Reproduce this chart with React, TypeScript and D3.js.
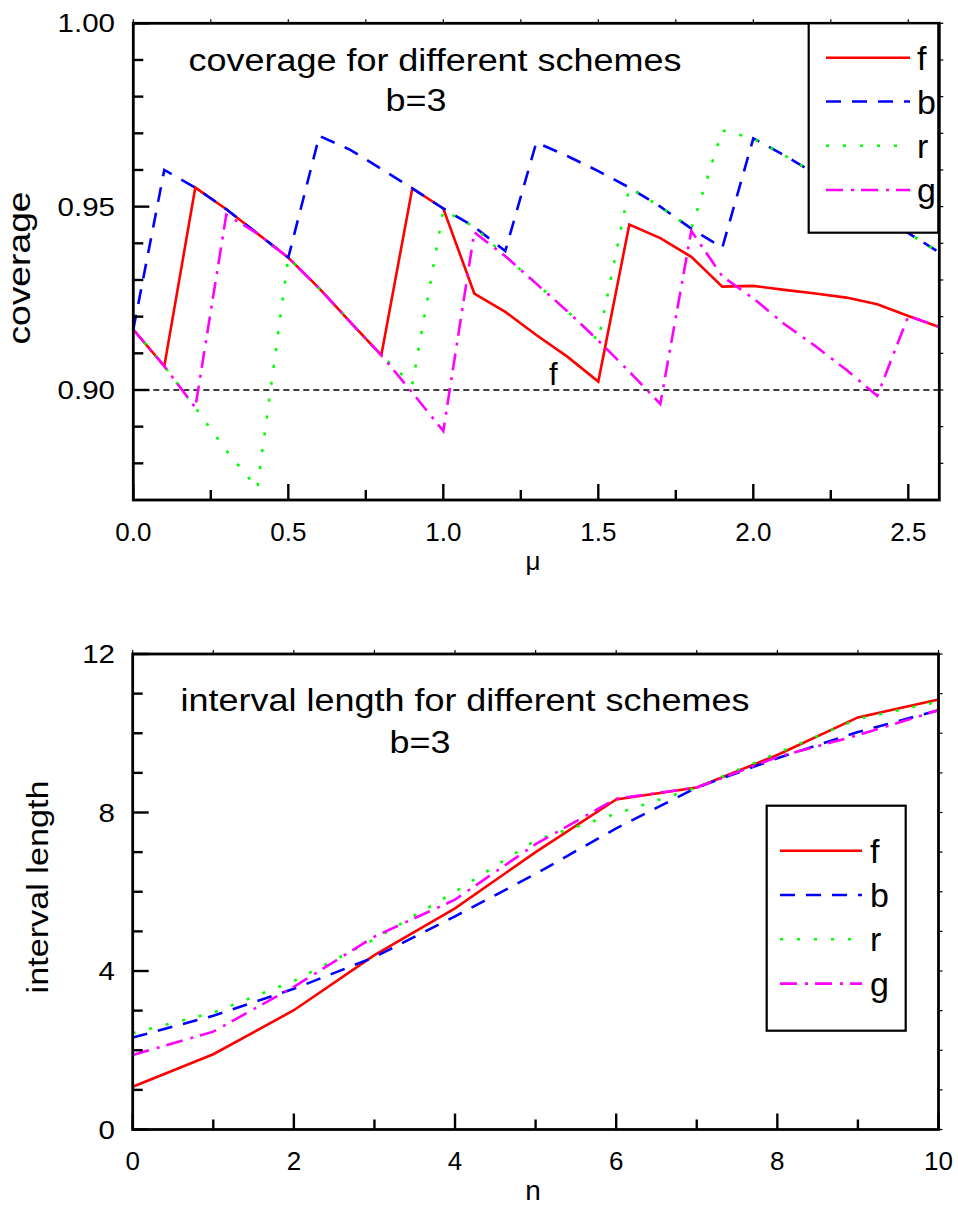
import React from "react";
import * as d3 from "d3";

// ---------- Data: top panel (coverage vs mu) ----------
const muValues = [0, 0.1, 0.2, 0.3, 0.4, 0.5, 0.6, 0.7, 0.8, 0.9, 1.0, 1.1, 1.2, 1.3, 1.4, 1.5, 1.6, 1.7, 1.8, 1.9, 2.0, 2.1, 2.2, 2.3, 2.4, 2.5, 2.6];
const coverageF = [0.9165, 0.9065, 0.9552, 0.9493, 0.9427, 0.9361, 0.9277, 0.9185, 0.9095, 0.955, 0.9495, 0.9263, 0.9213, 0.915, 0.9091, 0.9023, 0.9451, 0.9414, 0.9363, 0.9282, 0.9284, 0.9273, 0.9263, 0.9252, 0.9234, 0.9202, 0.9172];
const coverageB = [0.9165, 0.96, 0.9552, 0.9493, 0.9427, 0.9361, 0.9693, 0.9655, 0.9603, 0.955, 0.9495, 0.9445, 0.9379, 0.9675, 0.9638, 0.9597, 0.9552, 0.95, 0.944, 0.9388, 0.9686, 0.964, 0.959, 0.9535, 0.9482, 0.9428, 0.9375];
const coverageR = [0.9165, 0.9065, 0.8952, 0.8835, 0.8732, 0.9361, 0.9277, 0.9185, 0.9095, 0.9015, 0.949, 0.9445, 0.9365, 0.929, 0.9215, 0.9135, 0.9552, 0.95, 0.944, 0.9708, 0.9686, 0.964, 0.959, 0.9535, 0.9482, 0.9428, 0.9375];
const coverageG = [0.9165, 0.9065, 0.8952, 0.9478, 0.9427, 0.9361, 0.9277, 0.9185, 0.9095, 0.8993, 0.8888, 0.943, 0.9365, 0.929, 0.9215, 0.9135, 0.905, 0.8962, 0.9434, 0.931, 0.925, 0.918, 0.912, 0.9055, 0.8984, 0.9202, 0.9172];
const nominalLevel = 0.9;

const topXMajor = [0, 0.5, 1.0, 1.5, 2.0, 2.5];
const topXMinor = [0.25, 0.75, 1.25, 1.75, 2.25];
const topYMajor = [0.9, 0.95, 1.0];
const topYMinor = [0.88, 0.89, 0.91, 0.92, 0.93, 0.94, 0.96, 0.97, 0.98, 0.99];

// ---------- Data: bottom panel (interval length vs n) ----------
const nValues = [0, 1, 2, 3, 4, 5, 6, 7, 8, 9, 10];
const lengthF = [1.08, 1.9, 3.01, 4.4, 5.58, 7.0, 8.33, 8.63, 9.45, 10.4, 10.85];
const lengthB = [2.32, 2.87, 3.55, 4.35, 5.38, 6.45, 7.6, 8.63, 9.37, 10.03, 10.58];
const lengthR = [2.43, 2.95, 3.75, 4.8, 6.0, 7.3, 7.97, 8.63, 9.5, 10.36, 10.8];
const lengthG = [1.88, 2.47, 3.6, 4.87, 5.8, 7.2, 8.35, 8.63, 9.4, 9.95, 10.58];

const botXMajor = [0, 2, 4, 6, 8, 10];
const botXMinor = [1, 3, 5, 7, 9];
const botYMajor = [0, 4, 8, 12];
const botYMinor = [1, 2, 3, 5, 6, 7, 9, 10, 11];

const seriesNames = ["f", "b", "r", "g"];

// ---------- Styles ----------
const FONT = "'Liberation Sans', Arial, Helvetica, sans-serif";
const styles = [
  { color: "#ff0000", dash: "none" },
  { color: "#0000ff", dash: "15,11" },
  { color: "#00ff00", dash: "3,14" },
  { color: "#ff00ff", dash: "17,8,3,7" },
];

type TProps = {
  x: number;
  y: number;
  size: number;
  sx?: number;
  anchor?: string;
  rotate?: number;
  children: React.ReactNode;
};
function T({ x, y, size, sx = 1, anchor = "start", rotate = 0, children }: TProps) {
  return (
    <g transform={`translate(${x},${y}) rotate(${rotate}) scale(${sx},1)`}>
      <text x={0} y={0} fontSize={size} fontFamily={FONT} textAnchor={anchor} fill="#000">
        {children}
      </text>
    </g>
  );
}

type PanelProps = {
  xs: number[];
  series: number[][];
  xDomain: [number, number];
  yDomain: [number, number];
  left: number;
  right: number;
  top: number;
  bottom: number;
  xMajor: number[];
  xMinor: number[];
  yMajor: number[];
  yMinor: number[];
  xFmt: (v: number) => string;
  yFmt: (v: number) => string;
  xLabelBaseline: number;
  refLine?: number;
};

function Panel(p: PanelProps) {
  const x = d3.scaleLinear().domain(p.xDomain).range([p.left, p.right]);
  const y = d3.scaleLinear().domain(p.yDomain).range([p.bottom, p.top]);
  const line = d3
    .line<number>()
    .x((_, i) => x(p.xs[i]))
    .y((d) => y(d));
  const majLen = 16;
  const minLen = 10;
  const outLen = 4;
  return (
    <g>
      {p.refLine !== undefined && (
        <line
          x1={p.left}
          x2={p.right}
          y1={y(p.refLine)}
          y2={y(p.refLine)}
          stroke="#000"
          strokeWidth={1.6}
          strokeDasharray="6,4"
        />
      )}
      {p.series.map((s, i) => (
        <path
          key={i}
          d={line(s) || ""}
          fill="none"
          stroke={styles[i].color}
          strokeWidth={2.6}
          strokeDasharray={styles[i].dash}
          strokeLinejoin="miter"
        />
      ))}
      {/* frame */}
      <rect
        x={p.left}
        y={p.top}
        width={p.right - p.left}
        height={p.bottom - p.top}
        fill="none"
        stroke="#000"
        strokeWidth={2.8}
      />
      {/* bottom ticks (inward) */}
      {p.xMajor.map((v) => (
        <line key={"xM" + v} x1={x(v)} x2={x(v)} y1={p.bottom} y2={p.bottom - majLen} stroke="#000" strokeWidth={2.4} />
      ))}
      {p.xMinor.map((v) => (
        <line key={"xm" + v} x1={x(v)} x2={x(v)} y1={p.bottom} y2={p.bottom - minLen} stroke="#000" strokeWidth={2.4} />
      ))}
      {/* top ticks (small, outward) */}
      {[...p.xMajor, ...p.xMinor].map((v) => (
        <line key={"xt" + v} x1={x(v)} x2={x(v)} y1={p.top} y2={p.top - outLen} stroke="#000" strokeWidth={1.2} />
      ))}
      {/* left ticks (inward) */}
      {p.yMajor.map((v) => (
        <line key={"yM" + v} x1={p.left} x2={p.left + majLen} y1={y(v)} y2={y(v)} stroke="#000" strokeWidth={2.4} />
      ))}
      {p.yMinor.map((v) => (
        <line key={"ym" + v} x1={p.left} x2={p.left + minLen} y1={y(v)} y2={y(v)} stroke="#000" strokeWidth={2.4} />
      ))}
      {/* right ticks (small, outward) */}
      {[...p.yMajor, ...p.yMinor].map((v) => (
        <line key={"yr" + v} x1={p.right} x2={p.right + outLen} y1={y(v)} y2={y(v)} stroke="#000" strokeWidth={1.2} />
      ))}
      {/* tick labels */}
      {p.xMajor.map((v) => (
        <T key={"xl" + v} x={x(v)} y={p.xLabelBaseline} size={26} anchor="middle">
          {p.xFmt(v)}
        </T>
      ))}
      {p.yMajor.map((v) => (
        <T key={"yl" + v} x={115} y={y(v) + 9} size={25} sx={1.18} anchor="end">
          {p.yFmt(v)}
        </T>
      ))}
    </g>
  );
}

function Legend({ left, top, right, bottom, rowY, lineX1, lineX2, textX }: any) {
  return (
    <g>
      <rect x={left} y={top} width={right - left} height={bottom - top} fill="#fff" stroke="#000" strokeWidth={2.2} />
      {seriesNames.map((name, i) => (
        <g key={name}>
          <line
            x1={lineX1}
            x2={lineX2}
            y1={rowY[i]}
            y2={rowY[i]}
            stroke={styles[i].color}
            strokeWidth={2.6}
            strokeDasharray={styles[i].dash}
          />
          <T x={textX} y={rowY[i] + 12} size={34}>
            {name}
          </T>
        </g>
      ))}
    </g>
  );
}

export default function App() {
  return (
    <svg
      width={958}
      height={1214}
      style={{ position: "absolute", left: 0, top: 0, background: "#fff" }}
    >
      <rect x={0} y={0} width={958} height={1214} fill="#fff" />
      {/* ---------- Top panel ---------- */}
      <Panel
        xs={muValues}
        series={[coverageF, coverageB, coverageR, coverageG]}
        xDomain={[0, 2.6]}
        yDomain={[0.87, 1.0]}
        left={133.3}
        right={939.3}
        top={23.3}
        bottom={500}
        xMajor={topXMajor}
        xMinor={topXMinor}
        yMajor={topYMajor}
        yMinor={topYMinor}
        xFmt={d3.format(".1f")}
        yFmt={d3.format(".2f")}
        xLabelBaseline={541}
        refLine={nominalLevel}
      />
      <T x={435} y={71} size={31} sx={1.16} anchor="middle">
        coverage for different schemes
      </T>
      <T x={416} y={111} size={31} sx={1.16} anchor="middle">
        b=3
      </T>
      <T x={549} y={385} size={31}>
        f
      </T>
      <T x={533} y={570} size={26} anchor="middle">
        μ
      </T>
      <T x={29.5} y={268} size={31} sx={1.2} rotate={-90} anchor="middle">
        coverage
      </T>
      <Legend
        left={808.7}
        top={23.3}
        right={938.3}
        bottom={232.7}
        rowY={[57.7, 101.5, 145.7, 190]}
        lineX1={826}
        lineX2={910}
        textX={917}
      />

      {/* ---------- Bottom panel ---------- */}
      <Panel
        xs={nValues}
        series={[lengthF, lengthB, lengthR, lengthG]}
        xDomain={[0, 10]}
        yDomain={[0, 12]}
        left={132.7}
        right={938.5}
        top={654}
        bottom={1129.5}
        xMajor={botXMajor}
        xMinor={botXMinor}
        yMajor={botYMajor}
        yMinor={botYMinor}
        xFmt={d3.format("d")}
        yFmt={d3.format("d")}
        xLabelBaseline={1170}
      />
      <T x={465} y={711} size={31} sx={1.16} anchor="middle">
        interval length for different schemes
      </T>
      <T x={420} y={753} size={31} sx={1.16} anchor="middle">
        b=3
      </T>
      <T x={533} y={1200} size={28} anchor="middle">
        n
      </T>
      <T x={47.5} y={887} size={29} sx={1.18} rotate={-90} anchor="middle">
        interval length
      </T>
      <Legend
        left={766.7}
        top={805.7}
        right={905.7}
        bottom={1030.7}
        rowY={[850.7, 895, 939.3, 983.6]}
        lineX1={780}
        lineX2={862}
        textX={870}
      />
    </svg>
  );
}
